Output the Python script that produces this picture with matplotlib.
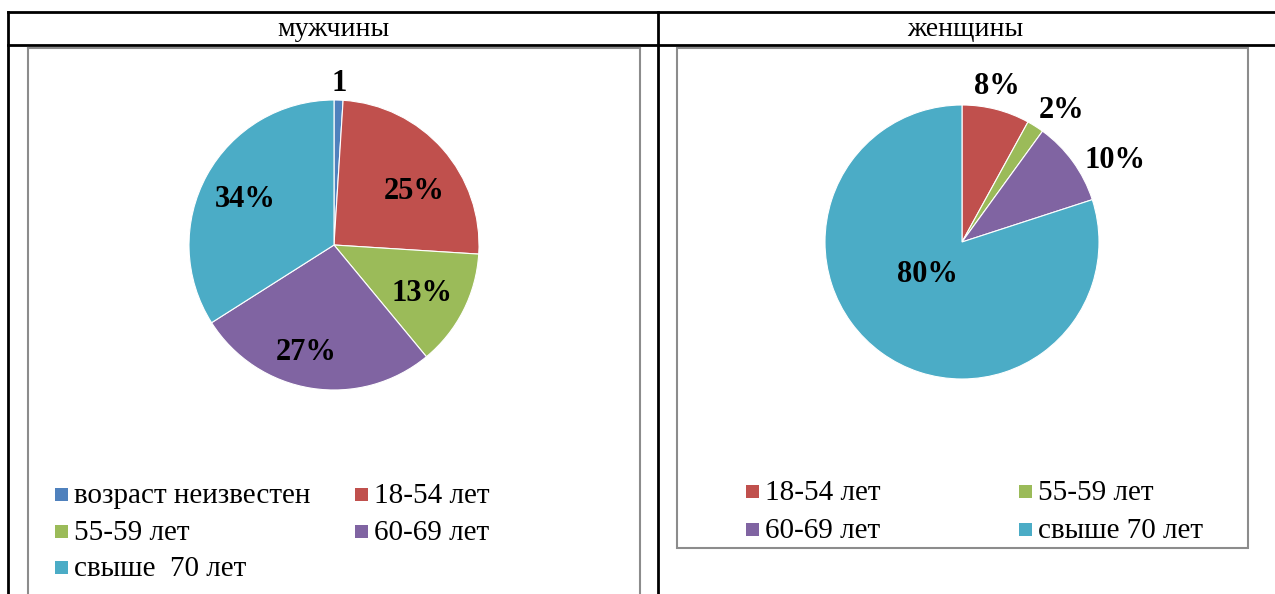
import numpy as np
from matplotlib import pyplot as plt
from matplotlib.lines import Line2D
from matplotlib.patches import Rectangle

# данные
men_labels = ["возраст неизвестен", "18-54 лет", "55-59 лет", "60-69 лет", "свыше  70 лет"]
men_values = [1, 25, 13, 27, 34]
men_texts = ["1", "25%", "13%", "27%", "34%"]

women_labels = ["18-54 лет", "55-59 лет", "60-69 лет", "свыше 70 лет"]
women_values = [8, 2, 10, 80]
women_texts = ["8%", "2%", "10%", "80%"]

titles = ["мужчины", "женщины"]

men_colors = ["#4F81BD", "#C0504D", "#9BBB59", "#8064A2", "#4BACC6"]
women_colors = ["#C0504D", "#9BBB59", "#8064A2", "#4BACC6"]

W, H = 1275, 594
plt.rcParams['font.family'] = ['Liberation Serif', 'DejaVu Serif']

fig = plt.figure(figsize=(W / 100, H / 100), dpi=100)


def fx(x):
    return x / W


def fy(y):
    return 1 - y / H


def line(x0, y0, x1, y1, color="black", lw=2.0):
    fig.add_artist(Line2D([fx(x0), fx(x1)], [fy(y0), fy(y1)],
                          transform=fig.transFigure, color=color, lw=lw))


# таблица
line(8, 12, W, 12)
line(8, 45, W, 45)
line(8, 12, 8, H + 5)
line(658, 12, 658, H + 5)
fig.text(fx(333), fy(30), titles[0], ha="center", va="center", fontsize=20)
fig.text(fx(965), fy(30), titles[1], ha="center", va="center", fontsize=20)

# рамки диаграмм
grey = "#8C8C8C"
line(28, 48, 640, 48, grey, 1.5)
line(28, 48, 28, H + 5, grey, 1.5)
line(640, 48, 640, H + 5, grey, 1.5)
fig.add_artist(Rectangle((fx(677), fy(548)), fx(1248 - 677), (548 - 48) / H,
                         transform=fig.transFigure, fill=False, ec=grey, lw=1.5))


def draw_pie(cx, cy, r, values, colors, texts, dists):
    ax = fig.add_axes([fx(cx - r), fy(cy + r), 2 * r / W, 2 * r / H])
    wedges, _ = ax.pie(values, colors=colors, startangle=90, counterclock=False,
                       radius=1, wedgeprops=dict(edgecolor="white", linewidth=0.8))
    ax.set_xlim(-1, 1)
    ax.set_ylim(-1, 1)
    ax.axis("off")
    for w, t, d in zip(wedges, texts, dists):
        ang = np.deg2rad((w.theta1 + w.theta2) / 2 + d[1])
        # подписи в эталоне сидят чуть ниже
        ax.text(d[0] * np.cos(ang), d[0] * np.sin(ang) - 0.025, t, ha="center",
                va="center", fontsize=22, fontweight="bold", clip_on=False)
    return ax


draw_pie(334, 245, 145, men_values, men_colors, men_texts,
         [(1.14, 0), (0.68, -6), (0.68, 0), (0.74, -6), (0.70, 0)])
draw_pie(962, 242, 137, women_values, women_colors, women_texts,
         [(1.19, 2), (1.22, -4), (1.28, -7), (0.33, -14)])


def draw_legend(labels, colors, xs, ys, ncol):
    for i, (lab, col) in enumerate(zip(labels, colors)):
        x = xs[i % ncol]
        y = ys[i // ncol]
        fig.add_artist(Rectangle((fx(x), fy(y + 6)), 13 / W, 13 / H,
                                 transform=fig.transFigure, color=col, lw=0))
        fig.text(fx(x + 19), fy(y + 1), lab, ha="left", va="center", fontsize=21)


draw_legend(men_labels, men_colors, [55, 355], [495, 532, 568], 2)
draw_legend(women_labels, women_colors, [746, 1019], [492, 530], 2)

fig.savefig("out.png", dpi=100)
